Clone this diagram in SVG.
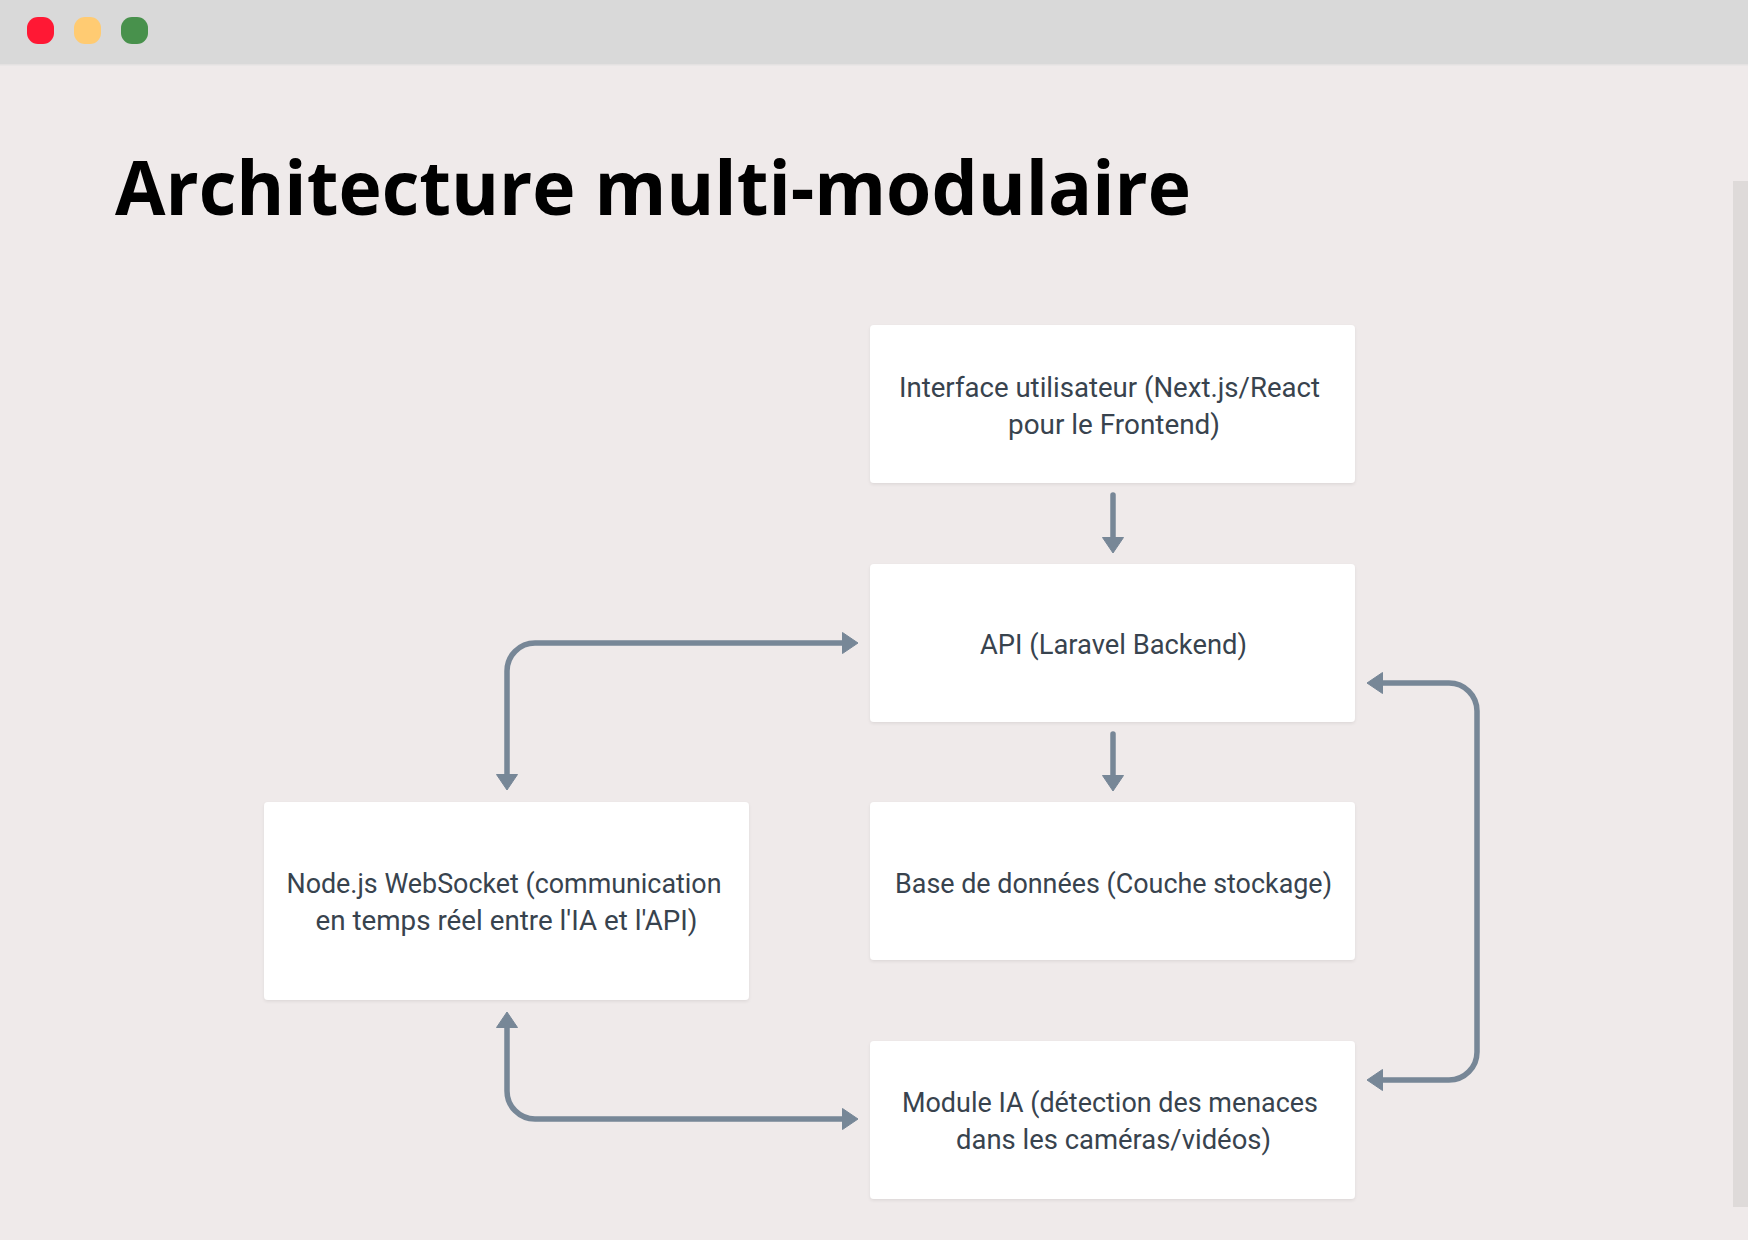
<svg xmlns="http://www.w3.org/2000/svg" width="1748" height="1240" viewBox="0 0 1748 1240">
  <style>
    .node rect.box { fill: #ffffff; filter: url(#shadow); }
    .lbl { font-family: Roboto, "Liberation Sans", sans-serif; font-size: 27px; fill: #38434e; }
    .conn { fill: none; stroke: #778797; stroke-width: 5.5; stroke-linecap: round; stroke-linejoin: round; }
    .title { font-family: "Open Sans", "Liberation Sans", Arial, sans-serif; font-weight: bold; font-size: 75px; fill: #000000; }
  </style>
  <defs>
    <filter id="shadow" x="-5%" y="-5%" width="110%" height="115%">
      <feDropShadow dx="0" dy="1.5" stdDeviation="1.5" flood-color="#000000" flood-opacity="0.08"/>
    </filter>
    <marker id="arrow" markerUnits="userSpaceOnUse" viewBox="0 0 16 22" markerWidth="16" markerHeight="22" refX="4" refY="11" orient="auto-start-reverse">
      <path d="M0.5,0.5 L16,11 L0.5,21.5 z" fill="#778797" stroke="#778797" stroke-width="1" stroke-linejoin="round"/>
    </marker>
  </defs>

  <!-- background -->
  <rect x="0" y="0" width="1748" height="1240" fill="#efeaea"/>
  <rect x="0" y="0" width="1748" height="64" fill="#d9d9d9"/>
  <rect x="0" y="64" width="1748" height="1.5" fill="#e4e1e1"/>
  <rect x="27" y="17" width="27" height="27" rx="11" fill="#ff1834"/>
  <rect x="74" y="17" width="27" height="27" rx="11" fill="#ffcb72"/>
  <rect x="121" y="17" width="27" height="27" rx="11" fill="#48914c"/>
  <rect x="1733" y="181" width="15" height="1026" fill="#dedad9"/>

  <text class="title" x="115" y="215" textLength="1076" lengthAdjust="spacingAndGlyphs">Architecture multi-modulaire</text>

  <!-- connectors -->
  <g id="connectors">
    <path class="conn" d="M1113 495 V541" marker-end="url(#arrow)"/>
    <path class="conn" d="M1113 734 V779" marker-end="url(#arrow)"/>
    <path class="conn" d="M507 778 V671 A28 28 0 0 1 535 643 H846" marker-start="url(#arrow)" marker-end="url(#arrow)"/>
    <path class="conn" d="M507 1024 V1091 A28 28 0 0 0 535 1119 H846" marker-start="url(#arrow)" marker-end="url(#arrow)"/>
    <path class="conn" d="M1379 683 H1449 A28 28 0 0 1 1477 711 V1052 A28 28 0 0 1 1449 1080 H1379" marker-start="url(#arrow)" marker-end="url(#arrow)"/>
  </g>

  <!-- nodes -->
  <g id="node-frontend" class="node">
    <rect class="box" x="870" y="325" width="485" height="158" rx="4"/>
    <text class="lbl" x="899" y="397" textLength="421" lengthAdjust="spacingAndGlyphs">Interface utilisateur (Next.js/React</text>
    <text class="lbl" x="1008" y="434" textLength="212" lengthAdjust="spacingAndGlyphs">pour le Frontend)</text>
  </g>
  <g id="node-api" class="node">
    <rect class="box" x="870" y="564" width="485" height="158" rx="4"/>
    <text class="lbl" x="980" y="654" textLength="267" lengthAdjust="spacingAndGlyphs">API (Laravel Backend)</text>
  </g>
  <g id="node-db" class="node">
    <rect class="box" x="870" y="802" width="485" height="158" rx="4"/>
    <text class="lbl" x="895" y="893" textLength="437" lengthAdjust="spacingAndGlyphs">Base de données (Couche stockage)</text>
  </g>
  <g id="node-ia" class="node">
    <rect class="box" x="870" y="1041" width="485" height="158" rx="4"/>
    <text class="lbl" x="902" y="1112" textLength="416" lengthAdjust="spacingAndGlyphs">Module IA (détection des menaces</text>
    <text class="lbl" x="956" y="1149" textLength="315" lengthAdjust="spacingAndGlyphs">dans les caméras/vidéos)</text>
  </g>
  <g id="node-websocket" class="node">
    <rect class="box" x="264" y="802" width="485" height="198" rx="4"/>
    <text class="lbl" x="286.5" y="893" textLength="435" lengthAdjust="spacingAndGlyphs">Node.js WebSocket (communication</text>
    <text class="lbl" x="315.5" y="930" textLength="382" lengthAdjust="spacingAndGlyphs">en temps réel entre l'IA et l'API)</text>
  </g>
</svg>
